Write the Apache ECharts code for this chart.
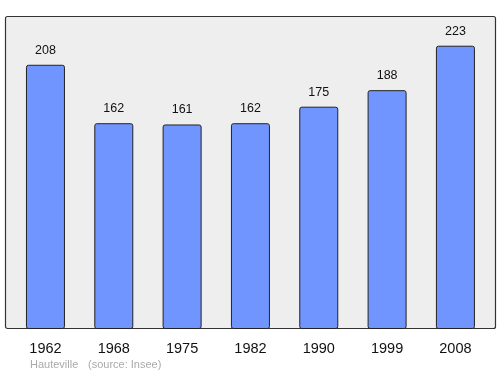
<!DOCTYPE html>
<html><head><meta charset="utf-8">
<script src="https://cdn.jsdelivr.net/npm/echarts@6/dist/echarts.min.js"></script>
<style>html,body{margin:0;padding:0;background:#fff}#c{width:500px;height:374px}</style>
</head><body><div id="c"></div>
<script>
const categories = ['1962','1968','1975','1982','1990','1999','2008'];
const population = [208,162,161,162,175,188,223];
const footerPlace = 'Hauteville';
const footerSource = '(source: Insee)';

const chart = echarts.init(document.getElementById('c'), null, {renderer:'canvas'});
chart.setOption({
  animation:false,
  backgroundColor:'#ffffff',
  graphic:[
    {type:'rect', z:-10, shape:{x:5.5,y:16.5,width:490,height:312, r:2}, style:{fill:'#eeeeee', stroke:'#333333', lineWidth:1.2}},
    {type:'text', left:30, top:359.5, style:{text:footerPlace, fill:'#aaaaaa', font:'11px "Liberation Sans", Arial, sans-serif'}},
    {type:'text', left:88, top:359.5, style:{text:footerSource, fill:'#aaaaaa', font:'11px "Liberation Sans", Arial, sans-serif'}}
  ],
  grid:{left:11.3, top:16.5, width:478.3, height:312.5, containLabel:false},
  xAxis:{type:'category', data:categories,
    axisLine:{show:false}, axisTick:{show:false},
    axisLabel:{color:'#111', fontSize:14.5, fontFamily:'"Liberation Sans", Arial, sans-serif', margin:12}},
  yAxis:{type:'value', min:0, max:246, show:false, splitLine:{show:false}},
  series:[{type:'bar', data:population, barWidth:39,
    itemStyle:{color:'#7095ff', borderColor:'#222', borderWidth:1, borderRadius:2},
    label:{show:true, position:'top', distance:8, color:'#111', fontSize:12.5, fontFamily:'"Liberation Sans", Arial, sans-serif'}}]
});
</script></body></html>
